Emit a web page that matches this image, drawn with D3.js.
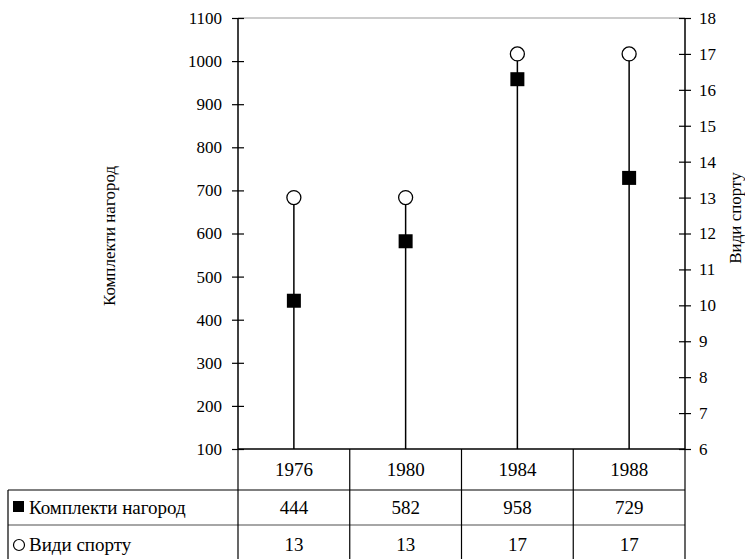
<!DOCTYPE html>
<html>
<head>
<meta charset="utf-8">
<script src="https://cdn.jsdelivr.net/npm/d3@7"></script>
<style>
  body { margin: 0; background: #fff; }
</style>
</head>
<body>
<svg width="745" height="559" font-family="Liberation Serif"></svg>
<script>
// дані
const years = ["1976", "1980", "1984", "1988"];
const medals = [444, 582, 958, 729];
const sports = [13, 13, 17, 17];
const leftTicks = [100, 200, 300, 400, 500, 600, 700, 800, 900, 1000, 1100];
const rightTicks = [6, 7, 8, 9, 10, 11, 12, 13, 14, 15, 16, 17, 18];

const svg = d3.select("svg");
const plotL = 238, plotR = 685, plotT = 18, plotB = 449;

const x = d3.scaleBand().domain(years).range([plotL, plotR]);
const yL = d3.scaleLinear().domain([100, 1100]).range([plotB, plotT]);
const yR = d3.scaleLinear().domain([6, 18]).range([plotB, plotT]);

// рамка зверху (сіра)
svg.append("line").attr("x1", plotL).attr("x2", plotR).attr("y1", plotT).attr("y2", plotT)
    .attr("stroke", "#999").attr("stroke-width", 1.2);

// ліва вісь
const axL = svg.append("g").attr("transform", `translate(${plotL},0)`)
    .call(d3.axisLeft(yL).tickValues(leftTicks).tickFormat(d3.format("d")).tickSize(6).tickPadding(10));
axL.select(".domain").remove();
axL.selectAll(".tick line").attr("x1", -6).attr("x2", 6).attr("stroke-width", 1.2);
svg.append("line").attr("x1", plotL).attr("x2", plotL).attr("y1", plotT).attr("y2", plotB)
    .attr("stroke", "#000").attr("stroke-width", 1.5);

// права вісь
const axR = svg.append("g").attr("transform", `translate(${plotR},0)`)
    .call(d3.axisRight(yR).tickValues(rightTicks).tickFormat(d3.format("d")).tickSize(6).tickPadding(8));
axR.select(".domain").remove();
axR.selectAll(".tick line").attr("x1", -6).attr("x2", 6).attr("stroke-width", 1.2);
svg.append("line").attr("x1", plotR).attr("x2", plotR).attr("y1", plotT).attr("y2", plotB)
    .attr("stroke", "#000").attr("stroke-width", 1.5);

axL.attr("font-family", null).attr("font-size", null);
axR.attr("font-family", null).attr("font-size", null);
svg.selectAll(".tick text").attr("font-size", 17);

// підписи осей
svg.append("text").attr("transform", "translate(115,236) rotate(-90)")
    .attr("text-anchor", "middle").attr("font-size", 17).text("Комплекти нагород");
svg.append("text").attr("transform", "translate(741,218) rotate(-90)")
    .attr("text-anchor", "middle").attr("font-size", 17).text("Види спорту");

// вертикальні лінії від низу до верхньої точки
const cx = d => x(d) + x.bandwidth() / 2;
svg.selectAll(".drop").data(years).enter().append("line")
    .attr("x1", cx).attr("x2", cx)
    .attr("y1", plotB)
    .attr("y2", (d, i) => Math.min(yL(medals[i]), yR(sports[i])))
    .attr("stroke", "#000").attr("stroke-width", 1.5);

// нижня лінія
svg.append("line").attr("x1", plotL).attr("x2", plotR).attr("y1", plotB).attr("y2", plotB)
    .attr("stroke", "#000").attr("stroke-width", 1.5);

// маркери
svg.selectAll(".sq").data(years).enter().append("rect")
    .attr("x", d => cx(d) - 7).attr("y", (d, i) => yL(medals[i]) - 7)
    .attr("width", 14).attr("height", 14).attr("fill", "#000");
svg.selectAll(".ci").data(years).enter().append("circle")
    .attr("cx", cx).attr("cy", (d, i) => yR(sports[i])).attr("r", 7)
    .attr("fill", "#fff").attr("stroke", "#000").attr("stroke-width", 1.3);

// таблиця
const tableLeft = 8;
const rows = [plotB, 490, 525];
const tbl = svg.append("g");
tbl.append("line").attr("x1", tableLeft).attr("x2", plotR).attr("y1", rows[1]).attr("y2", rows[1])
    .attr("stroke", "#000").attr("stroke-width", 1.2);
tbl.append("line").attr("x1", tableLeft).attr("x2", plotR).attr("y1", rows[2]).attr("y2", rows[2])
    .attr("stroke", "#888").attr("stroke-width", 1.5);
const bounds = years.map(d => x(d)).concat([plotR]);
tbl.selectAll(".vl").data(bounds).enter().append("line")
    .attr("x1", d => d).attr("x2", d => d)
    .attr("y1", plotB).attr("y2", 559)
    .attr("stroke", "#000").attr("stroke-width", 1.2);
tbl.append("line").attr("x1", tableLeft).attr("x2", tableLeft).attr("y1", rows[1]).attr("y2", 559)
    .attr("stroke", "#000").attr("stroke-width", 1.2);

tbl.selectAll(".yr").data(years).enter().append("text")
    .attr("x", cx).attr("y", 476).attr("text-anchor", "middle").attr("font-size", 19).text(d => d);
tbl.selectAll(".mv").data(medals).enter().append("text")
    .attr("x", (d, i) => cx(years[i])).attr("y", 514).attr("text-anchor", "middle")
    .attr("font-size", 19).text(d => d);
tbl.selectAll(".sv").data(sports).enter().append("text")
    .attr("x", (d, i) => cx(years[i])).attr("y", 551).attr("text-anchor", "middle")
    .attr("font-size", 19).text(d => d);

// легенда в таблиці
tbl.append("rect").attr("x", 13).attr("y", 501).attr("width", 11).attr("height", 11).attr("fill", "#000");
tbl.append("text").attr("x", 29).attr("y", 514).attr("font-size", 19).text("Комплекти нагород");
tbl.append("circle").attr("cx", 19).attr("cy", 545).attr("r", 5.5)
    .attr("fill", "#fff").attr("stroke", "#000").attr("stroke-width", 1.2);
tbl.append("text").attr("x", 29).attr("y", 551).attr("font-size", 19).text("Види спорту");

// шрифт для всіх текстів
svg.selectAll("text")
    .attr("font-family", "Liberation Serif")
    .attr("fill", "#000");
</script>
</body>
</html>
